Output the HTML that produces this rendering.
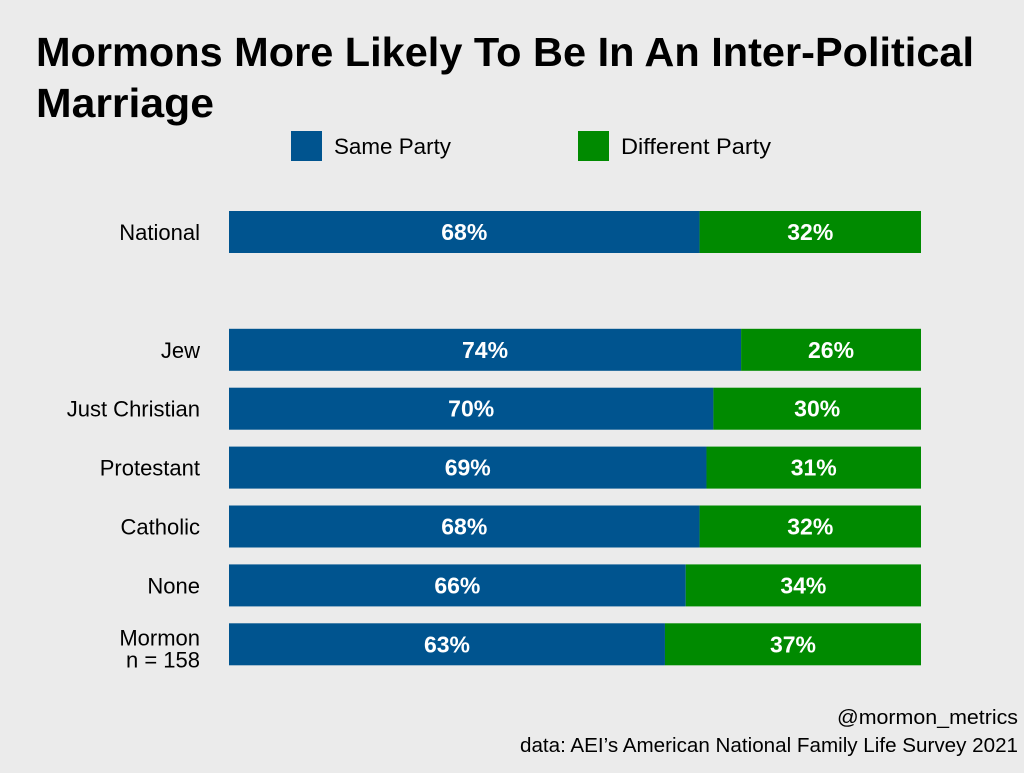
<!DOCTYPE html>
<html><head><meta charset="utf-8">
<style>
html,body{margin:0;padding:0;background:#ebebeb;}
body{width:1024px;height:768px;overflow:hidden;font-family:"Liberation Sans",sans-serif;}
</style></head>
<body>
<svg id="chart" width="1024" height="768" xmlns="http://www.w3.org/2000/svg">
<rect width="1024" height="768" fill="#ebebeb"/>
<text x="36" y="66" font-size="41" font-weight="bold" fill="#000" textLength="938" lengthAdjust="spacingAndGlyphs">Mormons More Likely To Be In An Inter-Political</text>
<text x="36" y="117" font-size="41" font-weight="bold" fill="#000" textLength="178" lengthAdjust="spacingAndGlyphs">Marriage</text>
<g>
<rect x="291" y="131" width="31" height="30" fill="#00548f"/>
<text x="334" y="154" font-size="22" fill="#000" textLength="117" lengthAdjust="spacingAndGlyphs">Same Party</text>
<rect x="578" y="131" width="31" height="30" fill="#008a00"/>
<text x="621" y="154" font-size="22" fill="#000" textLength="150" lengthAdjust="spacingAndGlyphs">Different Party</text>
</g>
<g id="bars"></g>
<text x="837" y="724" font-size="20" fill="#000" textLength="181" lengthAdjust="spacingAndGlyphs">@mormon_metrics</text>
<text x="520" y="752" font-size="20" fill="#000" textLength="498" lengthAdjust="spacingAndGlyphs">data: AEI’s American National Family Life Survey 2021</text>
</svg>
<script>
const categories = ["National", "", "Jew", "Just Christian", "Protestant", "Catholic", "None", "Mormon"];
const samePartyValues = [68, null, 74, 70, 69, 68, 66, 63];
const differentPartyValues = [32, null, 26, 30, 31, 32, 34, 37];

const NS = "http://www.w3.org/2000/svg";
const x0 = 229, plotW = 692, y0 = 211, step = 58.9, barH = 42;
const xScale = v => v / 100 * plotW;
const yScale = i => y0 + i * step;
const g = document.getElementById("bars");
function mk(tag, attrs, txt){const e=document.createElementNS(NS,tag);for(const k in attrs)e.setAttribute(k,attrs[k]);if(txt!=null)e.textContent=txt;g.appendChild(e);return e;}
categories.forEach((c,i)=>{
  if(samePartyValues[i]==null) return;
  const y=yScale(i), ws=xScale(samePartyValues[i]), wd=xScale(differentPartyValues[i]);
  const slug=c.toLowerCase().replace(/\s+/g,'-');
  let r=mk("rect",{x:x0,y:y,width:ws,height:barH,fill:"#00548f"});
  
  
  r=mk("rect",{x:x0+ws,y:y,width:wd,height:barH,fill:"#008a00"});
  
  
  let t=mk("text",{x:x0+ws/2,y:y+29,"font-size":23,"font-weight":"bold",fill:"#fff","text-anchor":"middle"},samePartyValues[i]+"%");
  
  
  t=mk("text",{x:x0+ws+wd/2,y:y+29,"font-size":23,"font-weight":"bold",fill:"#fff","text-anchor":"middle"},differentPartyValues[i]+"%");
  
  
  if(c==="Mormon"){
    t=mk("text",{x:200,y:y+22,"font-size":22,fill:"#000","text-anchor":"end"},"Mormon");
    
    
    t=mk("text",{x:200,y:y+44,"font-size":22,fill:"#000","text-anchor":"end"},"n = 158");
    
    
  } else {
    t=mk("text",{x:200,y:y+29,"font-size":22,fill:"#000","text-anchor":"end"},c);
    
    
  }
});
</script>
</body></html>
